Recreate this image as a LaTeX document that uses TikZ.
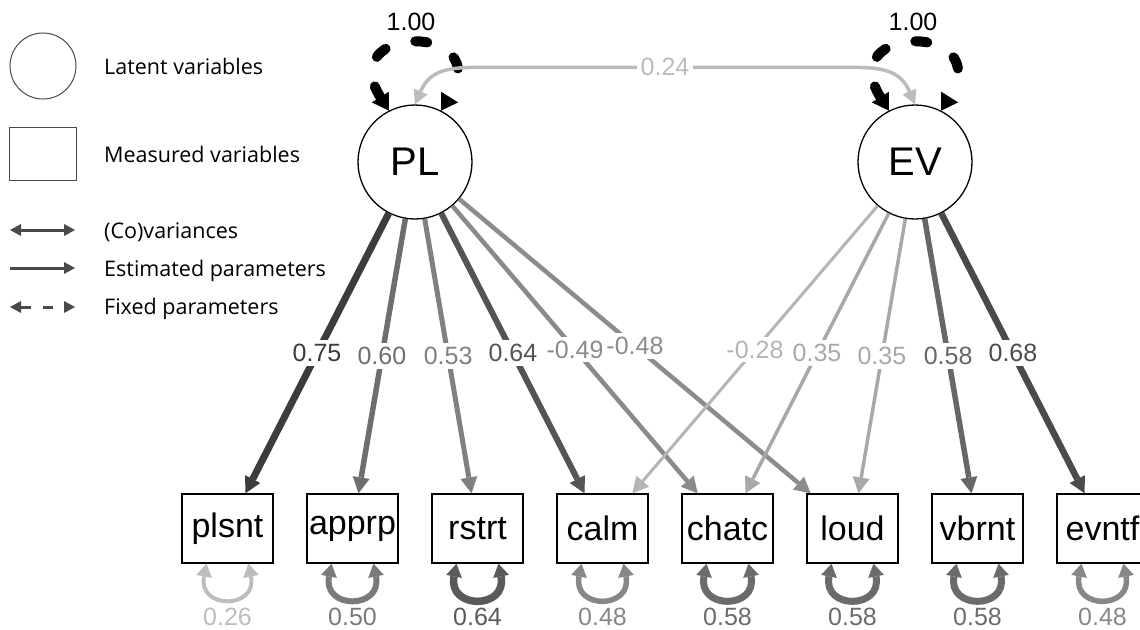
\documentclass[tikz,border=0pt]{standalone}
\usepackage{fontspec}
\setmainfont{Liberation Sans}
\newfontfamily\legendfont{Open Sans}
\usetikzlibrary{arrows.meta,calc}
\definecolor{c75}{HTML}{3C3C3C}
\definecolor{c60}{HTML}{6E6E6E}
\definecolor{c53}{HTML}{808080}
\definecolor{c64}{HTML}{545454}
\definecolor{c49}{HTML}{8A8A8A}
\definecolor{c48}{HTML}{8C8C8C}
\definecolor{c28}{HTML}{B5B5B5}
\definecolor{c35}{HTML}{A8A8A8}
\definecolor{c58}{HTML}{676767}
\definecolor{c68}{HTML}{4A4A4A}
\definecolor{c24}{HTML}{BBBBBB}
\definecolor{r26}{HTML}{BDBDBD}
\definecolor{r50}{HTML}{7A7A7A}
\definecolor{r64}{HTML}{5A5A5A}
\definecolor{r48}{HTML}{878787}
\definecolor{r58}{HTML}{6B6B6B}
\definecolor{cleg}{HTML}{4A4A4A}
\begin{document}
\begin{tikzpicture}[x=1pt,y=-1pt,
  latent/.style={circle,draw=black,line width=1.3pt,minimum size=114pt,inner sep=0pt,fill=white,font=\fontsize{40}{42}\selectfont},
  manifest/.style={rectangle,draw=black,line width=1.3pt,minimum width=91pt,minimum height=69pt,inner sep=0pt,fill=white,font=\fontsize{34}{36}\selectfont},
  lab/.style={fill=white,inner sep=4pt,font=\fontsize{25}{27}\selectfont},
  load/.style 2 args={draw=#1,line width=#2,>={Triangle[width=17pt,length=16pt,line width=0pt]},->},
  resid/.style 2 args={draw=#1,line width=#2,>={Triangle[width=16pt,length=13pt,line width=0pt]},<->},
  fixvar/.style={draw=black,line width=10pt,line cap=round,dash pattern=on 12pt off 31pt,>={Triangle[width=20pt,length=16pt,line width=0pt]},<->},
  cov/.style={draw=c24,line width=3.5pt,>={Triangle[width=15pt,length=14pt,line width=0pt]},<->},
  legtxt/.style={anchor=base west,inner sep=0pt,font=\legendfont\fontsize{21.5}{24}\selectfont},
  legarr/.style={draw=cleg,line width=3pt,>={Triangle[width=12pt,length=11pt,line width=0pt]}},
]
\useasboundingbox (0,0) rectangle (1140,629);

% legend
\node[circle,draw=cleg,line width=1pt,minimum size=66pt,inner sep=0pt] (legL) at (43,66) {};
\node[rectangle,draw=cleg,line width=1pt,minimum width=67pt,minimum height=53pt,inner sep=0pt] (legM) at (42.5,153.5) {};
\node[legtxt] (t1) at (104,74) {Latent variables};
\node[legtxt] (t2) at (104,162) {Measured variables};
\node[legtxt] (t3) at (104,238) {(Co)variances};
\node[legtxt] (t4) at (104,276) {Estimated parameters};
\node[legtxt] (t5) at (104,314) {Fixed parameters};
\coordinate (a1) at (10,230); \coordinate (b1) at (75,230);
\coordinate (a2) at (10,268); \coordinate (b2) at (75,268);
\coordinate (a3) at (10,307); \coordinate (b3) at (75,307);
\draw[legarr,<->] (a1) -- (b1);
\draw[legarr,->] (a2) -- (b2);
\draw[legarr,<->,dash pattern=on 10pt off 12pt] (a3) -- (b3);

% latent variables
\node[latent] (PL) at (415,162) {PL};
\node[latent] (EV) at (915,162) {EV};

% measured variables
\node[manifest] (plsnt) at (227.5,528.5) {plsnt};
\node[manifest] (apprp) at (352.5,528.5) {apprp};
\node[manifest] (rstrt) at (477.5,528.5) {rstrt};
\node[manifest] (calm)  at (602.5,528.5) {calm};
\node[manifest] (chatc) at (727.5,528.5) {chatc};
\node[manifest] (loud)  at (852.5,528.5) {loud};
\node[manifest] (vbrnt) at (977.5,528.5) {vbrnt};
\node[manifest] (evntf) at (1102.5,528.5) {evntf};

% fixed variances of latents
\draw[fixvar] (PL.117) .. controls ($(PL.117)+(-55,-88)$) and ($(PL.63)+(55,-88)$) .. (PL.63);
\draw[fixvar] (EV.117) .. controls ($(EV.117)+(-55,-88)$) and ($(EV.63)+(55,-88)$) .. (EV.63);
\node[font=\fontsize{25}{27}\selectfont] (vPL) at ($(PL)+(-4,-140)$) {1.00};
\node[font=\fontsize{25}{27}\selectfont] (vEV) at ($(EV)+(-2,-140)$) {1.00};

% covariance
\draw[cov] (PL.north) .. controls ($(PL.north)+(15,-35)$) and ($(PL.north)+(35,-37)$) .. ($(PL.north)+(65,-37)$)
  -- node[lab,text=c24] (ecov) {0.24} ($(EV.north)+(-65,-37)$)
  .. controls ($(EV.north)+(-35,-37)$) and ($(EV.north)+(-15,-35)$) .. (EV.north);

% loadings
\draw[load={c75}{7pt}]   (PL) -- node[lab,text=c75] (e1) {0.75} (plsnt);
\draw[load={c60}{5.5pt}] (PL) -- node[lab,text=c60] (e2) {0.60} (apprp);
\draw[load={c53}{5pt}]   (PL) -- node[lab,text=c53] (e3) {0.53} (rstrt);
\draw[load={c64}{6pt}]   (PL) -- node[lab,text=c64] (e4) {0.64} (calm);
\draw[load={c49}{4.5pt}] (PL) -- node[lab,text=c49] (e5) {-0.49} (chatc);
\draw[load={c48}{4.5pt}] (PL) -- node[lab,text=c48] (e6) {-0.48} (loud);
\draw[load={c28}{3pt}]   (EV) -- node[lab,text=c28] (e7) {-0.28} (calm);
\draw[load={c35}{3.5pt}] (EV) -- node[lab,text=c35] (e8) {0.35} (chatc);
\draw[load={c35}{3.5pt}] (EV) -- node[lab,text=c35] (e9) {0.35} (loud);
\draw[load={c58}{5.5pt}] (EV) -- node[lab,text=c58] (e10) {0.58} (vbrnt);
\draw[load={c68}{6.5pt}] (EV) -- node[lab,text=c68] (e11) {0.68} (evntf);

% residual variances
\foreach \n/\c/\w/\v in {plsnt/r26/4/0.26, apprp/r50/6/0.50, rstrt/r64/7.5/0.64, calm/r48/5.5/0.48,
    chatc/r58/7/0.58, loud/r58/7/0.58, vbrnt/r58/7/0.58, evntf/r48/5.5/0.48}{
  \draw[resid={\c}{\w pt}] ($(\n.south)+(-21,0)$) .. controls +(-9,46) and +(9,46) .. ($(\n.south)+(21,0)$);
  \node[font=\fontsize{25}{27}\selectfont,text=\c] (v\n) at ($(\n.south)+(0,53)$) {\v};
}
\end{tikzpicture}
\end{document}
